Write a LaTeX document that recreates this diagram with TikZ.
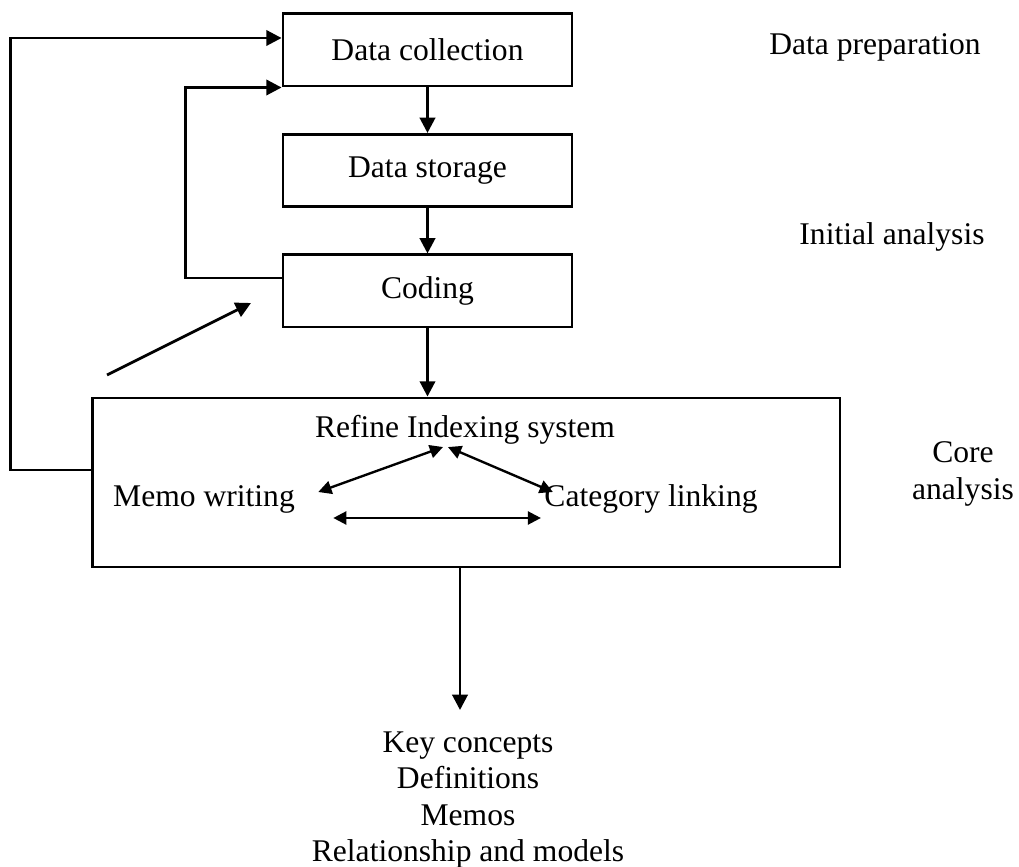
\documentclass[tikz,border=0pt]{standalone}
\usepackage{fontspec}
\setmainfont{Liberation Serif}
\usetikzlibrary{arrows.meta,positioning,calc}
\tikzset{
  stepbox/.style={draw,line width=1.1pt,inner sep=0pt,minimum width=109.8pt,
                  minimum height=27.4pt,font=\fontsize{12}{13.8}\selectfont},
  corebox/.style={draw,line width=1.1pt,inner sep=0pt,minimum width=284.2pt,
                  minimum height=64.2pt},
  lbl/.style={inner sep=0pt,align=center,font=\fontsize{12}{13.8}\selectfont},
  fl/.style={-{Triangle[length=5.8pt,width=5.8pt]},line width=1.1pt},
  fll/.style={{Triangle[length=5pt,width=5pt]}-{Triangle[length=5pt,width=5pt]},line width=0.9pt}
}
\begin{document}
\begin{tikzpicture}[x=0.38pt,y=-0.38pt]
  \useasboundingbox (0,0) rectangle (1019,867);
  \node[stepbox] (dc) at (427.5,50) {Data collection};
  \node[stepbox] (ds) at (427.5,170.5) {Data storage};
  \node[stepbox] (cod) at (427.5,291) {Coding};
  \node[corebox] (core) at (466,482.5) {};
  \node[lbl] (refine) at (465,430) {Refine Indexing system};
  \node[lbl] (memo) at (204,499) {Memo writing};
  \node[lbl] (catlink) at (651,499) {Category linking};
  \node[lbl] (prep) at (875,47) {Data preparation};
  \node[lbl] (init) at (892,237) {Initial analysis};
  \node[lbl] (corelbl) at (963,474) {Core\\analysis};
  \node[lbl] (out) at (468,800) {Key concepts\\Definitions\\Memos\\Relationship and models};
  \coordinate (fb) at (107,375);
  \coordinate (ft) at (251,303);
  \coordinate (outtip) at (460,710);
  \draw[fl] (dc) -- (ds);
  \draw[fl] (ds) -- (cod);
  \draw[fl] (cod.south) -- (cod.south |- core.north);
  \draw[fl] (core.south -| outtip) -- (outtip);
  \draw[fl] ($(core.west)+(0,-12.5)$) -- ++(-80,0) |- ($(dc.west)+(0,-12)$);
  \draw[fl] ($(cod.west)+(0,-13)$) -- ++(-96,0) |- (dc.south west);
  \draw[fl] (fb) -- (ft);
  \draw[fll] ($(refine.south)+(-22,2)$) -- ($(memo.east)+(23,-7)$);
  \draw[fll] ($(refine.south)+(-17,2)$) -- ($(catlink.west)+(9,-7)$);
  \draw[fll] ($(memo.east)+(38,19)$) -- ($(catlink.west)+(-3,19)$);
\end{tikzpicture}
\end{document}
